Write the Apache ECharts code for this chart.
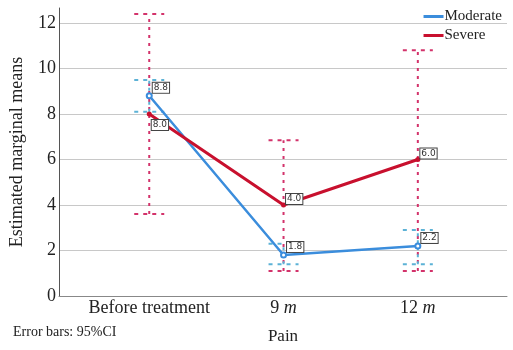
<!DOCTYPE html>
<html>
<head>
<meta charset="utf-8">
<script src="https://cdn.jsdelivr.net/npm/echarts@6/dist/echarts.min.js"></script>
<style>
  html, body { margin: 0; padding: 0; background: #fff; }
  #chart { width: 513px; height: 350px; }
</style>
</head>
<body>
<div id="chart"></div>
<script>
var categories = ['Before treatment', '9 m', '12 m'];
var moderate = [8.8, 1.8, 2.2];
var severe = [8.0, 4.0, 6.0];
// 95% CI ends
var moderateLow = [8.1, 1.4, 1.4];
var moderateHigh = [9.5, 2.3, 2.9];
var severeLow = [3.6, 1.1, 1.1];
var severeHigh = [12.4, 6.85, 10.8];

var blue = '#3b8ddc';
var red = '#c8102e';
var serif = '"Liberation Serif", "DejaVu Serif", serif';

var myChart = echarts.init(document.getElementById('chart'));

function pts(arr) {
    return arr.map(function (v, i) { return [i, v]; });
}
function ciData(low, high) {
    return low.map(function (v, i) { return [i, v, high[i]]; });
}
function errorBar(stemColor, capColor, stemDash) {
    return function (params, api) {
        var x = api.value(0);
        var lo = api.coord([x, api.value(1)]);
        var hi = api.coord([x, api.value(2)]);
        var w = 15;
        return {
            type: 'group',
            children: [
                { type: 'line', shape: { x1: lo[0], y1: lo[1], x2: hi[0], y2: hi[1] },
                  style: { stroke: stemColor, lineWidth: 2, lineDash: stemDash } },
                { type: 'line', shape: { x1: hi[0] - w, y1: hi[1], x2: hi[0] + w, y2: hi[1] },
                  style: { stroke: capColor, lineWidth: 2, lineDash: [4, 5] } },
                { type: 'line', shape: { x1: lo[0] - w, y1: lo[1], x2: lo[0] + w, y2: lo[1] },
                  style: { stroke: capColor, lineWidth: 2, lineDash: [4, 5] } }
            ]
        };
    };
}
function boxLabel() {
    return {
        show: true,
        position: 'right',
        distance: 0,
        fontSize: 9,
        fontFamily: 'DejaVu Sans',
        color: '#333',
        backgroundColor: '#fff',
        borderColor: '#444',
        borderWidth: 1,
        padding: [1, 1, 0, 1],
        formatter: function (p) { return p.value[1].toFixed(1); }
    };
}

var option = {
    animation: false,
    grid: { left: 55, right: 6, top: 8, bottom: 54 },
    legend: {
        orient: 'vertical',
        right: 6,
        top: 4,
        itemGap: 4,
        itemWidth: 20,
        itemHeight: 3,
        icon: 'rect',
        data: ['Moderate', 'Severe'],
        textStyle: { fontFamily: serif, fontSize: 15, color: '#222', padding: [0, 0, 0, -4] }
    },
    xAxis: {
        type: 'value',
        min: -0.672,
        max: 2.664,
        name: 'Pain',
        nameLocation: 'middle',
        nameGap: 32,
        nameTextStyle: { fontFamily: serif, fontSize: 17, color: '#222' },
        axisLine: { show: true, onZero: false, lineStyle: { color: '#888' } },
        axisTick: { show: false },
        splitLine: { show: false },
        axisLabel: {
            customValues: [0, 1, 2],
            margin: 3,
            fontFamily: serif,
            fontSize: 18,
            color: '#222',
            formatter: function (v) {
                var s = categories[Math.round(v)];
                return s.replace(/ m$/, ' {i|m}');
            },
            rich: { i: { fontFamily: serif, fontSize: 18, fontStyle: 'italic', color: '#222' } }
        }
    },
    yAxis: {
        type: 'value',
        min: 0,
        max: 12.66,
        interval: 2,
        name: 'Estimated marginal means',
        nameLocation: 'middle',
        nameGap: 33,
        nameTextStyle: { fontFamily: serif, fontSize: 18, color: '#222' },
        axisLine: { show: true, onZero: false, lineStyle: { color: '#555' } },
        axisTick: { show: false },
        splitLine: { show: true, showMaxLine: false, lineStyle: { color: '#c8c8c8' } },
        axisLabel: {
            showMaxLabel: false,
            margin: 3,
            fontFamily: serif,
            fontSize: 18,
            color: '#222'
        }
    },
    graphic: [
        { type: 'text', left: 13, top: 325,
          style: { text: 'Error bars: 95%CI', font: '14px ' + serif, fill: '#222' } }
    ],
    series: [
        {
            name: 'severeCI',
            type: 'custom',
            data: ciData(severeLow, severeHigh),
            renderItem: errorBar('#d3336b', '#d3336b', [3, 5]),
            encode: { x: 0, y: [1, 2] },
            z: 1
        },
        {
            name: 'moderateCI',
            type: 'custom',
            data: ciData(moderateLow, moderateHigh),
            renderItem: errorBar('#5cb2d6', '#5cb2d6', [3, 4]),
            encode: { x: 0, y: [1, 2] },
            z: 1
        },
        {
            name: 'Moderate',
            type: 'line',
            data: pts(moderate),
            color: blue,
            lineStyle: { width: 2.5, color: blue },
            symbol: 'emptyCircle',
            symbolSize: 5,
            label: boxLabel(),
            labelLayout: { dy: -8 },
            z: 3
        },
        {
            name: 'Severe',
            type: 'line',
            data: pts(severe).map(function (d, i) {
                return i === 0 ? { value: d, label: { offset: [0, 11] } } : { value: d, label: { offset: [0, -6] } };
            }),
            color: red,
            lineStyle: { width: 3, color: red },
            symbol: 'circle',
            symbolSize: 5,
            label: boxLabel(),
            z: 4
        }
    ]
};

myChart.setOption(option);
</script>
</body>
</html>
